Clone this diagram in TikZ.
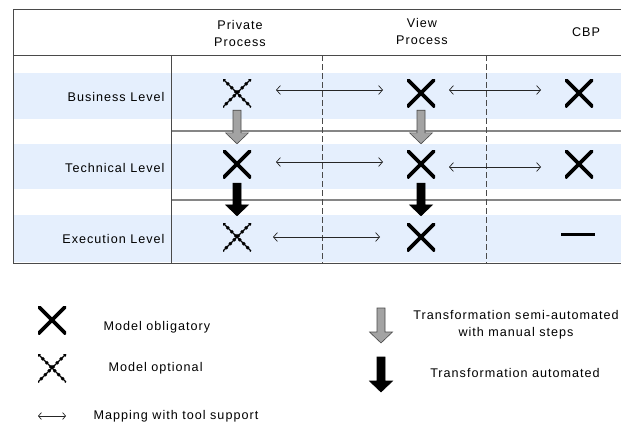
\documentclass[tikz,border=0pt]{standalone}
\usepackage{fontspec}
\setmainfont{Liberation Sans}[LetterSpace=8]
\usepackage{xcolor}
\usepackage{tikz}
\usetikzlibrary{arrows.meta,calc}
\definecolor{bandblue}{HTML}{E5EFFD}
\definecolor{framegray}{HTML}{4A4A4A}
\definecolor{rulegray}{HTML}{868686}
\definecolor{transgray}{HTML}{A3A3A3}

\begin{document}
\begin{tikzpicture}[
  x=1pt,y=-1pt,
  font=\fontsize{12.6}{17}\selectfont,
  must/.style={minimum size=28pt,inner sep=0pt,
    path picture={\draw[line width=3.6pt] (path picture bounding box.north west) -- (path picture bounding box.south east)
      (path picture bounding box.north east) -- (path picture bounding box.south west);}},
  maybe/.style={minimum size=28pt,inner sep=0pt,
    path picture={\draw[line width=1.1pt] (path picture bounding box.north west) -- (path picture bounding box.south east)
      (path picture bounding box.north east) -- (path picture bounding box.south west);
      \draw[line width=3pt,dash pattern=on 2.4pt off 3.2pt] (path picture bounding box.north west) -- (path picture bounding box.south east)
      (path picture bounding box.north east) -- (path picture bounding box.south west);}},
  nomodel/.style={minimum width=34pt,minimum height=28pt,inner sep=0pt,
    path picture={\draw[line width=3pt] (path picture bounding box.west) -- (path picture bounding box.east);}},
  mapping/.style={{Straight Barb[length=4pt,width=9pt]}-{Straight Barb[length=4pt,width=9pt]},line width=.7pt,draw=black!85},
  blockarrow/.style={line width=.6pt,
    to path={let \p1=(\tikztostart),\p2=(\tikztotarget) in
      (\x1-4pt,\y1) -- (\x1+4pt,\y1) -- (\x1+4pt,\y2+11pt) -- (\x1+11.5pt,\y2+11pt) -- (\x1,\y2)
      -- (\x1-11.5pt,\y2+11pt) -- (\x1-4pt,\y2+11pt) -- cycle}},
  semiauto/.style={blockarrow,draw=framegray,fill=transgray},
  fullauto/.style={blockarrow,draw=black,fill=black}
]
\useasboundingbox (0,0) rectangle (621,426);

\fill[bandblue] (13,73) rectangle (625,119);
\fill[bandblue] (13,144) rectangle (625,189);
\fill[bandblue] (13,215) rectangle (625,262);
\draw[rulegray,line width=1.4pt] (171,131) -- (625,131) (171,200) -- (625,200);
\draw[framegray,line width=.8pt] (171,55) -- (171,263);
\draw[framegray,line width=.7pt,dash pattern=on 6pt off 3pt] (322,55) -- (322,263) (486,55) -- (486,263);
\draw[framegray,line width=.9pt] (625,9) -- (13,9) -- (13,263) -- (625,263) (13,55) -- (625,55);

\node[align=center] (private) at (240,33) {Private\\Process};
\node[align=center] (view) at (422,31.5) {View\\Process};
\node (cbp) at (586,32) {CBP};

\node[anchor=east] (business) at (168,97) {Business Level};
\node[anchor=east] (technical) at (168,168) {Technical Level};
\node[anchor=east] (execution) at (168,239) {Execution Level};

\node[maybe] (bp) at (237,93) {};
\node[must] (bv) at (421,93) {};
\node[must] (bc) at (579,93) {};
\node[must] (tp) at (237,164) {};
\node[must] (tv) at (421,164) {};
\node[must] (tc) at (579,164) {};
\node[maybe] (ep) at (237,237) {};
\node[must] (ev) at (421,237) {};
\node[nomodel] (ec) at (578,234) {};

\draw[mapping,shorten <=39pt,shorten >=38pt] ([yshift=3pt]bp.center) -- ([yshift=3pt]bv.center);
\draw[mapping,shorten <=28pt,shorten >=38pt] ([yshift=3pt]bv.center) -- ([yshift=3pt]bc.center);
\draw[mapping,shorten <=39pt,shorten >=38pt] ([yshift=2pt]tp.center) -- ([yshift=2pt]tv.center);
\draw[mapping,shorten <=28pt,shorten >=38pt] ([yshift=-3pt]tv.center) -- ([yshift=-3pt]tc.center);
\draw[mapping,shorten <=36pt,shorten >=41pt] (ep.center) -- (ev.center);

\draw[semiauto] ([yshift=-3pt]bp.south) to ([yshift=6pt]tp.north);
\draw[semiauto] ([yshift=-3pt]bv.south) to ([yshift=6pt]tv.north);
\draw[fullauto] ([yshift=-5pt]tp.south) to ([yshift=7pt]ep.north);
\draw[fullauto] ([yshift=-5pt]tv.south) to ([yshift=7pt]ev.north);

\node[must] (keymust) at (52,320) {};
\node[anchor=west] (keymusttext) at (100,327) {Model obligatory};
\node[maybe] (keymaybe) at (52,368) {};
\node[anchor=west] (keymaybetext) at (105,368) {Model optional};
\coordinate (mapfrom) at (38,416);
\coordinate (mapto) at (66,416);
\draw[mapping,{Straight Barb[length=3pt,width=7pt]}-{Straight Barb[length=3pt,width=7pt]}] (mapfrom) -- (mapto);
\node[anchor=west] (keymaptext) at (90,416) {Mapping with tool support};

\coordinate (semitop) at (381,308);
\coordinate (semibottom) at (381,343);
\draw[semiauto] (semitop) to (semibottom);
\node[align=center] (keysemitext) at (516,325) {Transformation semi-automated\\with manual steps};
\coordinate (autotop) at (381,357);
\coordinate (autobottom) at (381,392);
\draw[fullauto] (autotop) to (autobottom);
\node (keyautotext) at (515,373) {Transformation automated};
\end{tikzpicture}
\end{document}
